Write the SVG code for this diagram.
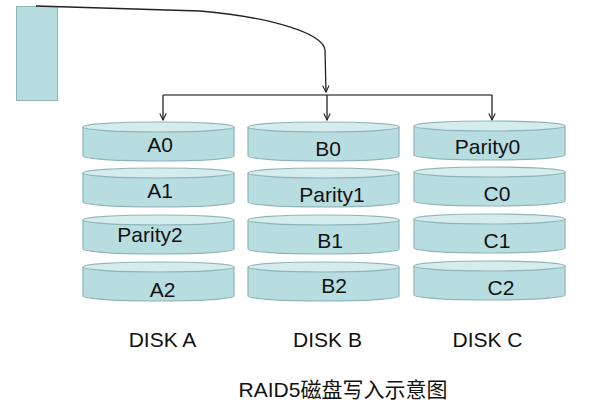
<svg xmlns="http://www.w3.org/2000/svg" width="600" height="400" viewBox="0 0 600 400">
<defs>
<marker id="arr" viewBox="0 0 10 10" refX="9" refY="5" markerWidth="8" markerHeight="8" markerUnits="userSpaceOnUse" orient="auto">
<path d="M1,1 L9,5 L1,9" fill="none" stroke="#222" stroke-width="1.4"/>
</marker>
<g id="cyl">
<path d="M0,5 L0,34 A75.5,5 0 0 0 151,34 L151,5" fill="#b8dde1" stroke="#8fb4b7" stroke-width="1.2"/>
<ellipse cx="75.5" cy="5" rx="75.5" ry="5" fill="#d4ecee" stroke="#8fb4b7" stroke-width="1.2"/>
</g>
</defs>
<style>
.t{font-family:"Liberation Sans",Arial,sans-serif;font-size:21px;fill:#111;text-anchor:middle}
.c{stroke:#222;stroke-width:1.3;fill:none}
.h{stroke:#555;stroke-width:1.5;fill:none}
</style>
<rect x="16.5" y="6.5" width="41" height="94" fill="#b8dde1" stroke="#8fb4b7" stroke-width="1"/>
<g id="connectors">
<path class="c" d="M36,6 L200,11 C270,17 323,33 325,50 L326,92" marker-end="url(#arr)"/>
<path class="h" d="M163,95 L492,95"/>
<path class="c" d="M163,95 L163,120" marker-end="url(#arr)"/>
<path class="c" d="M327,95 L327,120" marker-end="url(#arr)"/>
<path class="c" d="M492,95 L492,120" marker-end="url(#arr)"/>
</g>
<g id="diskA">
<use href="#cyl" x="83" y="122"/>
<use href="#cyl" x="83" y="168"/>
<use href="#cyl" x="83" y="215"/>
<use href="#cyl" x="83" y="262"/>
<text class="t" x="160" y="152">A0</text>
<text class="t" x="160" y="198">A1</text>
<text class="t" x="150" y="242">Parity2</text>
<text class="t" x="162.5" y="297">A2</text>
</g>
<g id="diskB">
<use href="#cyl" x="248" y="122"/>
<use href="#cyl" x="248" y="168"/>
<use href="#cyl" x="248" y="215"/>
<use href="#cyl" x="248" y="262"/>
<text class="t" x="328" y="156">B0</text>
<text class="t" x="332" y="202">Parity1</text>
<text class="t" x="330" y="248">B1</text>
<text class="t" x="334" y="293">B2</text>
</g>
<g id="diskC">
<use href="#cyl" x="414" y="121"/>
<use href="#cyl" x="414" y="167"/>
<use href="#cyl" x="414" y="214"/>
<use href="#cyl" x="414" y="261"/>
<text class="t" x="487.5" y="154">Parity0</text>
<text class="t" x="497" y="201">C0</text>
<text class="t" x="497" y="248">C1</text>
<text class="t" x="501" y="295">C2</text>
</g>
<text class="t" x="162.5" y="347">DISK A</text>
<text class="t" x="327.5" y="347">DISK B</text>
<text class="t" x="487.5" y="347">DISK C</text>
<text class="t" x="343" y="397" style="font-family:'Liberation Sans','Noto Sans CJK SC',sans-serif">RAID5磁盘写入示意图</text>
</svg>
